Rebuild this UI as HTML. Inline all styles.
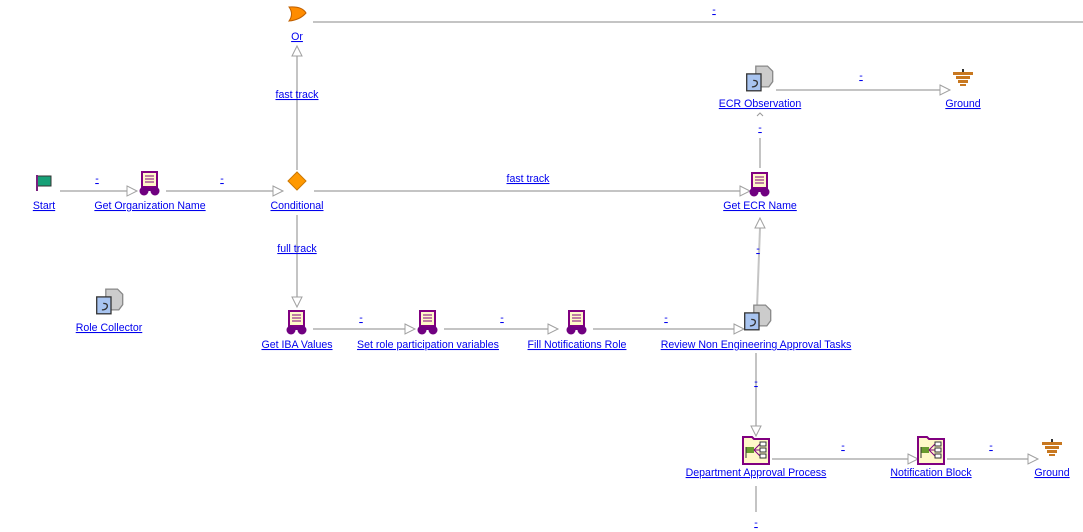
<!DOCTYPE html>
<html><head><meta charset="utf-8"><style>
html,body{margin:0;padding:0;background:#fff;width:1083px;height:532px;overflow:hidden}
svg text{font-family:"Liberation Sans",sans-serif;font-size:10.6px;fill:#0000ee;text-decoration:underline;text-anchor:middle}
</style></head><body>
<svg width="1083" height="532" xmlns="http://www.w3.org/2000/svg">
<defs>
<g id="robot">
<rect x="-8" y="-10" width="15" height="15" fill="#fff8c8" stroke="#800080" stroke-width="2"/>
<line x1="-5" y1="-6" x2="4" y2="-6" stroke="#800080"/>
<line x1="-5" y1="-3" x2="4" y2="-3" stroke="#800080"/>
<line x1="-5" y1="0" x2="4" y2="0" stroke="#800080"/>
<rect x="-6" y="6" width="11" height="3" fill="#700080"/>
<circle cx="-6" cy="9" r="4.5" fill="#700080"/>
<circle cx="5" cy="9" r="4.5" fill="#700080"/>
</g>
<g id="obs" transform="scale(1.3)">
<path d="M-4,-13 h9 l4,4 v8 l-3,4 h-10 z" fill="#ccc" stroke="#888"/>
<rect x="-11" y="-7" width="11" height="13" fill="#a8c4f0" stroke="#333"/>
<path d="M-6,-2 q4,0 3,3 q-1,2 -4,2" fill="none" stroke="#333"/>
</g>
<g id="ground">
<rect x="-1" y="-10" width="2" height="3" fill="#333"/>
<rect x="-10" y="-7" width="20" height="3" fill="#c87820"/>
<rect x="-7" y="-3" width="14" height="3" fill="#c87820"/>
<rect x="-5" y="1" width="10" height="3" fill="#c87820"/>
<rect x="-3" y="5" width="6" height="2" fill="#c87820"/>
</g>
<g id="folder">
<path d="M-13,-13 h9 l2,2 h15 v25 h-26 z" fill="#fff8c8" stroke="#800080" stroke-width="2"/>
<rect x="-10" y="-3" width="8" height="6" fill="#6a9a30"/>
<line x1="-10" y1="-3" x2="-10" y2="8" stroke="#333"/>
<path d="M-2,0 L4,-6 M-2,0 L4,0 M-2,0 L4,6" stroke="#800080"/>
<rect x="4" y="-8" width="6" height="4" fill="#fff" stroke="#333"/>
<rect x="4" y="-2" width="6" height="4" fill="#fff" stroke="#333"/>
<rect x="4" y="4" width="6" height="4" fill="#fff" stroke="#333"/>
</g>
</defs>
<g stroke="#c4c4c4" stroke-width="2" fill="none">
<line x1="60" y1="191" x2="127" y2="191"/>
<line x1="166" y1="191" x2="273" y2="191"/>
<line x1="297" y1="170" x2="297" y2="56"/>
<line x1="314" y1="191" x2="740" y2="191"/>
<line x1="313" y1="22" x2="1083" y2="22"/>
<line x1="297" y1="215" x2="297" y2="297"/>
<line x1="313" y1="329" x2="405" y2="329"/>
<line x1="444" y1="329" x2="548" y2="329"/>
<line x1="593" y1="329" x2="742" y2="329"/>
<line x1="757" y1="308" x2="760" y2="228"/>
<line x1="760" y1="168" x2="760" y2="138"/>
<line x1="776" y1="90" x2="940" y2="90"/>
<line x1="756" y1="353" x2="756" y2="426"/>
<line x1="772" y1="459" x2="908" y2="459"/>
<line x1="947" y1="459" x2="1028" y2="459"/>
<line x1="756" y1="486" x2="756" y2="512"/>
</g>
<g stroke="#a0a0a0" stroke-width="1" fill="#fff">
<path d="M127,186 L137,191 L127,196 Z"/>
<path d="M273,186 L283,191 L273,196 Z"/>
<path d="M292,56 L297,46 L302,56 Z"/>
<path d="M740,186 L750,191 L740,196 Z"/>
<path d="M292,297 L297,307 L302,297 Z"/>
<path d="M405,324 L415,329 L405,334 Z"/>
<path d="M548,324 L558,329 L548,334 Z"/>
<path d="M734,324 L744,329 L734,334 Z"/>
<path d="M755,228 L760,218 L765,228 Z"/>
<path d="M940,85 L950,90 L940,95 Z"/>
<path d="M751,426 L756,436 L761,426 Z"/>
<path d="M908,454 L918,459 L908,464 Z"/>
<path d="M1028,454 L1038,459 L1028,464 Z"/>
</g>
<path d="M757,116 L760,113 L763,116" stroke="#999" fill="none"/>
<rect x="37" y="176" width="14" height="10" fill="#17a077" stroke="#333"/>
<line x1="37" y1="175" x2="37" y2="191" stroke="#7a2080" stroke-width="2"/>
<use href="#robot" x="150" y="182"/>
<path d="M297,172 L306,181 L297,190 L288,181 Z" fill="#ff9900" stroke="#cc7700"/>
<path d="M289,7 Q302,6 306,13 Q300,20 289,21 Q294,14 289,7 Z" fill="#ff8c00" stroke="#c06000"/>
<use href="#robot" x="760" y="183"/>
<use href="#obs" x="761" y="83"/>
<use href="#ground" x="963" y="79"/>
<use href="#obs" x="111" y="306"/>
<use href="#robot" x="297" y="321"/>
<use href="#robot" x="428" y="321"/>
<use href="#robot" x="577" y="321"/>
<use href="#obs" x="759" y="322"/>
<use href="#folder" x="756" y="450"/>
<use href="#folder" x="931" y="450"/>
<use href="#ground" x="1052" y="449"/>
<text x="44" y="209">Start</text>
<text x="150" y="209">Get Organization Name</text>
<text x="297" y="209">Conditional</text>
<text x="297" y="40">Or</text>
<text x="760" y="209">Get ECR Name</text>
<text x="760" y="107">ECR Observation</text>
<text x="963" y="107">Ground</text>
<text x="109" y="331">Role Collector</text>
<text x="297" y="348">Get IBA Values</text>
<text x="428" y="348">Set role participation variables</text>
<text x="577" y="348">Fill Notifications Role</text>
<text x="756" y="348">Review Non Engineering Approval Tasks</text>
<text x="756" y="476">Department Approval Process</text>
<text x="931" y="476">Notification Block</text>
<text x="1052" y="476">Ground</text>
<text x="97" y="182">-</text>
<text x="222" y="182">-</text>
<text x="297" y="98">fast track</text>
<text x="528" y="182">fast track</text>
<text x="714" y="13">-</text>
<text x="297" y="252">full track</text>
<text x="361" y="321">-</text>
<text x="502" y="321">-</text>
<text x="666" y="321">-</text>
<text x="758" y="252">-</text>
<text x="760" y="131">-</text>
<text x="861" y="79">-</text>
<text x="756" y="385">-</text>
<text x="843" y="449">-</text>
<text x="991" y="449">-</text>
<text x="756" y="526">-</text>
</svg>
</body></html>
